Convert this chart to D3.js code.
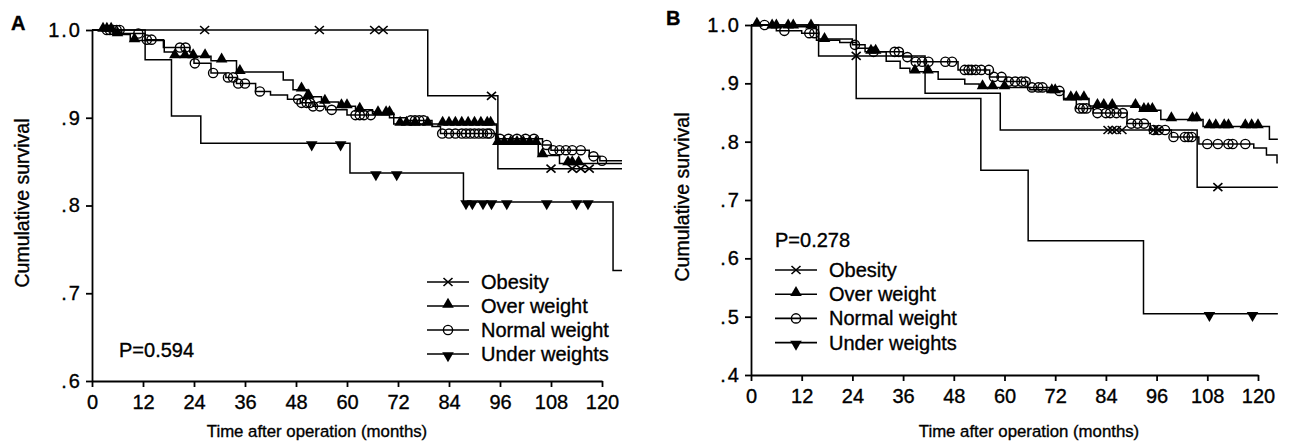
<!DOCTYPE html>
<html>
<head>
<meta charset="utf-8">
<script src="https://cdn.jsdelivr.net/npm/d3@7"></script>
<style>
    body { margin: 0; background: #fff; }
    svg { display: block; }
    text { font-family: "Liberation Sans", Arial, sans-serif; fill: #000; stroke: #000; stroke-width: 0.35px; }
</style>
</head>
<body>
<svg width="1291" height="447"></svg>
<script>
// tick labels
const months = [0, 12, 24, 36, 48, 60, 72, 84, 96, 108, 120]
const yTicksA = [0.6, 0.7, 0.8, 0.9, 1.0]
const yTicksB = [0.4, 0.5, 0.6, 0.7, 0.8, 0.9, 1.0]
const groups = ['Obesity', 'Over weight', 'Normal weight', 'Under weights']
const lastMonth = 124.7

// panel A: [month, survival after the drop] and censored months
const obesityA = [[0, 1], [79, 0.925], [95.5, 0.842]]
const obesityACensor = [26.5, 53.5, 66.5, 68.5, 94, 108, 113, 115, 117]
const overA = [[0, 1], [5, 0.995], [9, 0.988], [17, 0.975], [19, 0.97], [28, 0.965], [34, 0.952], [45, 0.943],
    [47.3, 0.932], [50.5, 0.924], [54, 0.918], [58, 0.913], [62, 0.909], [66, 0.905], [71, 0.893],
    [95.2, 0.871], [105, 0.857], [110, 0.848]]
const overACensor = [2.6, 3.5, 4.5, 6, 10, 19.5, 21.9, 23.8, 26.6, 30.5, 34.8, 49.3, 50.8, 51, 54.8, 58.7,
    60, 63, 67.3, 69.2, 70, 72.5, 74, 76, 79, 82.5, 84, 85.5, 87, 88.5, 90, 91.5, 93, 93.8, 95.5, 97,
    98.5, 100, 101.5, 103, 104.5, 106, 112, 113, 114.5]
const normalA = [[0, 1], [7, 0.996], [12.5, 0.989], [16.8, 0.98], [23, 0.975], [24, 0.962], [28, 0.951],
    [31.5, 0.946], [34, 0.939], [38.5, 0.93], [42, 0.926], [46, 0.921], [49, 0.917], [52, 0.913],
    [55, 0.909], [60, 0.903], [70, 0.9], [74, 0.897], [80, 0.89], [82, 0.882], [95, 0.876],
    [106, 0.869], [108, 0.863], [117, 0.856], [119.5, 0.851]]
const normalACensor = [3.5, 4.2, 5, 5.8, 6.5, 10.9, 12.9, 14, 20.7, 22, 24.2, 28.5, 32, 33.2, 34.4, 36,
    39.5, 48.5, 49.3, 50.5, 51.3, 52, 53.6, 56.4, 62, 63, 64, 65.6, 75, 76, 77, 78, 82.4, 84, 85.5, 87,
    88, 89, 90, 91, 92, 93, 93.6, 96, 98, 100, 102, 104, 107, 108.5, 110, 111.5, 113, 115, 118, 120]
const underA = [[0, 1], [12.5, 0.966], [18.7, 0.902], [25.6, 0.871], [60.7, 0.837], [87.4, 0.804], [122.6, 0.726]]
const underACensor = [51.7, 58.5, 66.8, 71.7, 88, 89.5, 92, 94, 97.6, 107, 114, 116.7]

// panel B
const obesityB = [[0, 1], [16, 0.947], [41.2, 0.883], [59, 0.82], [105.6, 0.722]]
const obesityBCensor = [24.9, 84.5, 85.5, 86.5, 87.8, 95.3, 96.3, 110.5]
const overB = [[0, 1], [5, 0.997], [15.5, 0.974], [21, 0.97], [25, 0.96], [28, 0.954], [32, 0.938],
    [35.3, 0.926], [37.6, 0.92], [44.3, 0.907], [50.6, 0.899], [54, 0.893], [66, 0.889], [70, 0.886],
    [74, 0.874], [80, 0.861], [92, 0.854], [97, 0.838], [107, 0.826], [122.7, 0.804]]
const overBCensor = [1.4, 5, 6, 8.8, 10, 14.2, 17.4, 28.4, 29.5, 38.8, 41.9, 54.8, 57.2, 60, 71.2, 72,
    75.7, 77, 78.8, 82, 83.5, 85.5, 91, 93, 94, 95, 99.5, 104.5, 105.5, 108.5, 110, 112, 113, 117, 118.5, 120]
const normalB = [[0, 1], [6, 0.99], [12, 0.986], [16, 0.976], [24, 0.966], [27, 0.954], [36, 0.945],
    [38, 0.937], [49, 0.923], [56.5, 0.911], [60.5, 0.903], [65.5, 0.893], [72, 0.887], [74, 0.872],
    [77, 0.857], [81, 0.849], [89, 0.831], [94.5, 0.82], [99.5, 0.808], [106, 0.796], [119, 0.789],
    [122, 0.777], [124.5, 0.764]]
const normalBCensor = [3.2, 7.9, 13.8, 15, 24.6, 29, 34, 35, 37, 39, 40.5, 42, 46, 47.6, 50.6, 51.5, 52.2,
    53.2, 54.5, 56.3, 57.5, 59.3, 61, 62.5, 64, 65, 66.5, 68, 69, 73, 77.8, 78.6, 79.4, 82, 84, 85,
    86.5, 88, 90, 91.5, 93, 95.3, 96.5, 98, 100, 102.7, 103.5, 104.3, 108, 110.5, 113, 114, 117]
const underB = [[0, 1], [24.9, 0.874], [54.4, 0.751], [65.6, 0.63], [92.9, 0.505]]
const underBCensor = [108.5, 118.7]

const markers = ['x', 'up', 'circle', 'down']

const svg = d3.select('svg')

function survivalAt(steps, t) {
    let s = steps[0][1]
    steps.forEach(([m, v]) => { if (m <= t) s = v })
    return s
}

function drawMark(g, type, x, y) {
    if (type === 'x') {
        g.append('path').attr('d', `M${x - 4.5},${y - 4}L${x + 4.5},${y + 4}M${x - 4.5},${y + 4}L${x + 4.5},${y - 4}`)
            .attr('stroke', '#000').attr('stroke-width', 1.6).attr('fill', 'none')
    } else if (type === 'circle') {
        g.append('circle').attr('cx', x).attr('cy', y).attr('r', 4.6)
            .attr('fill', 'none').attr('stroke', '#000').attr('stroke-width', 1.4)
    } else {
        const sym = d3.symbol().type(d3.symbolTriangle).size(58)
        g.append('path').attr('d', sym())
            .attr('transform', `translate(${x},${y + (type === 'up' ? -1.5 : 1.5)}) rotate(${type === 'up' ? 0 : 180})`)
            .attr('fill', '#000')
    }
}

function drawPanel(p) {
    const x = d3.scaleLinear().domain([0, 120]).range(p.xRange)
    const y = d3.scaleLinear().domain(p.yDomain).range(p.yRange)
    const g = svg.append('g')

    // axes
    const xAxis = g.append('g').attr('transform', `translate(0,${p.yRange[0]})`)
        .call(d3.axisBottom(x).tickValues(months).tickSize(6).tickSizeOuter(0).tickPadding(6))
    const yAxis = g.append('g').attr('transform', `translate(${p.xRange[0]},0)`)
        .call(d3.axisLeft(y).tickValues(p.yTicks).tickSize(6).tickSizeOuter(0).tickPadding(4)
            .tickFormat(v => v === 1 ? '1.0' : d3.format('.1f')(v).replace(/^0/, '')))
    ;[xAxis, yAxis].forEach(a => {
        a.selectAll('path, line').attr('stroke', '#000').attr('stroke-width', 1.8)
        a.selectAll('text').style('font-size', '20px').attr('fill', '#000')
    })
    xAxis.selectAll('text').attr('dy', '0.82em')
    yAxis.selectAll('text').style('letter-spacing', '2px')

    // curves
    const line = d3.line().x(d => x(d[0])).y(d => y(d[1])).curve(d3.curveStepAfter)
    p.series.forEach((s, i) => {
        const pts = s.steps.concat([[lastMonth, s.steps[s.steps.length - 1][1]]])
        g.append('path').attr('d', line(pts)).attr('fill', 'none')
            .attr('stroke', '#000').attr('stroke-width', 1.5)
        s.censor.forEach(t => drawMark(g, markers[i], x(t), y(survivalAt(s.steps, t))))
    })

    // legend
    const lg = g.append('g')
    groups.forEach((name, i) => {
        const cy = p.legend.y + i * p.legend.gap
        lg.append('line').attr('x1', p.legend.x).attr('x2', p.legend.x + 42).attr('y1', cy).attr('y2', cy)
            .attr('stroke', '#000').attr('stroke-width', 1.6)
        drawMark(lg, markers[i], p.legend.x + 21, cy)
        lg.append('text').attr('x', p.legend.x + 54).attr('y', cy + 7).style('font-size', '20px').text(name)
    })
    g.append('text').attr('x', p.pText[0]).attr('y', p.pText[1]).style('font-size', '20px').text(p.pLabel)

    // titles
    g.append('text').attr('transform', `translate(${p.yTitleX},${p.yTitleY}) rotate(-90)`)
        .attr('text-anchor', 'middle').style('font-size', '19.5px').text('Cumulative survival')
    g.append('text').attr('x', p.xTitleX).attr('y', 437).attr('text-anchor', 'middle')
        .style('font-size', '16.8px').text('Time after operation (months)')
    g.append('text').attr('x', p.letter[0]).attr('y', p.letter[1])
        .style('font-size', '20px').style('font-weight', 'bold').text(p.letterText)
}

drawPanel({
    xRange: [92, 602], yDomain: [0.6, 1.0], yRange: [381, 30], yTicks: yTicksA,
    series: [
        { steps: obesityA, censor: obesityACensor },
        { steps: overA, censor: overACensor },
        { steps: normalA, censor: normalACensor },
        { steps: underA, censor: underACensor }
    ],
    legend: { x: 427, y: 282, gap: 24 },
    pText: [119, 357], pLabel: 'P=0.594',
    yTitleX: 29, yTitleY: 203, xTitleX: 317,
    letter: [11, 30], letterText: 'A'
})

drawPanel({
    xRange: [751, 1258], yDomain: [0.4, 1.0], yRange: [375, 25], yTicks: yTicksB,
    series: [
        { steps: obesityB, censor: obesityBCensor },
        { steps: overB, censor: overBCensor },
        { steps: normalB, censor: normalBCensor },
        { steps: underB, censor: underBCensor }
    ],
    legend: { x: 775, y: 270, gap: 24.2 },
    pText: [775, 247], pLabel: 'P=0.278',
    yTitleX: 689, yTitleY: 197, xTitleX: 1029,
    letter: [666, 25], letterText: 'B'
})
</script>
</body>
</html>
